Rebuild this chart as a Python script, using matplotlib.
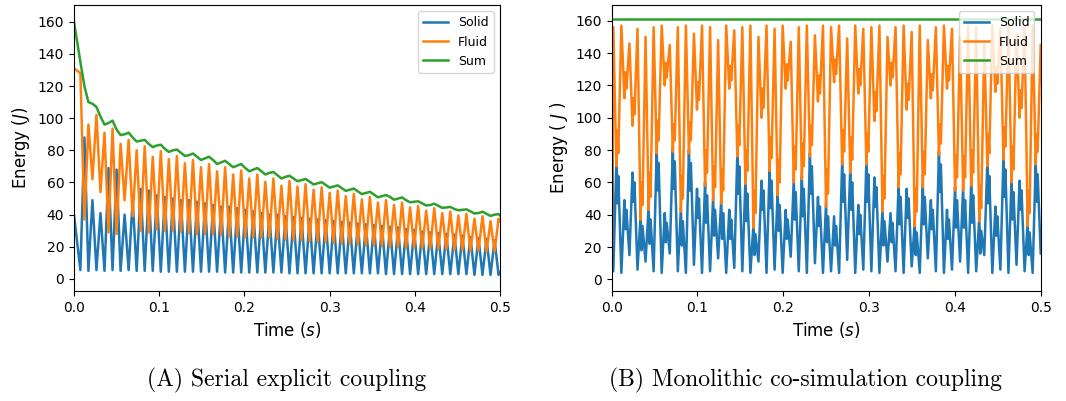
import numpy as np
import matplotlib.pyplot as plt

# ---- (A) serial explicit coupling: extrema of each oscillation
# solid lows / fluid highs sit on the same instants, solid highs / fluid lows on the next
solid_a_low = [5.5, 5, 5.5, 5, 5.5, 5, 5.5, 5, 5, 5, 4.5, 4.5, 4.5, 4.5, 4.5, 4.5, 4.5, 4.5,
               4, 4, 4, 4, 4, 4, 4, 4, 3.5, 3.5, 3.5, 3.5, 3.5, 3.5, 3.5, 3.5, 3.5, 3.5, 3.5, 3.5,
               3, 3, 3, 3, 3, 3, 3, 3, 3, 3, 3, 2.5, 2.5, 2.5, 2.5]
solid_a_high = [88, 49, 41, 69, 68, 40, 49, 56, 55, 52, 51, 50, 49, 49, 48, 47, 46, 45, 45, 44,
                43, 42, 41, 40, 40, 39, 38.5, 38, 37.5, 37, 36.5, 36, 35.5, 35, 34.5, 34, 33.5, 33,
                32.5, 32, 31, 30.5, 29.5, 29, 28.5, 28, 27.5, 27, 26, 25.5, 25, 24]
fluid_a_high = [128, 96, 102, 91, 93.5, 84, 86.5, 80, 82.5, 76, 79.5, 74.5, 76.5, 72, 74, 69.5,
                71.5, 67, 69.5, 65, 67.5, 62.5, 65, 60.5, 62.5, 58, 61, 57.5, 59, 55.5, 57, 53.5,
                55, 51.5, 53, 49.5, 51, 47.5, 49, 46, 47.5, 44.5, 45.5, 42.5, 44, 41, 42, 39.5,
                40.5, 37.5, 39, 36, 37.5]
fluid_a_low = [37, 62, 54, 29, 28, 49, 39, 30, 29, 31, 30, 30, 29.5, 28.5, 28, 28, 28, 27.5,
               26.5, 26.5, 26, 26, 26, 26, 25, 24.5, 24, 24, 23.5, 23, 23, 22.5, 22, 22, 21.5, 21,
               21, 20.5, 20, 20, 19.5, 19.5, 19, 19, 18.5, 18.5, 18, 18, 17.5, 17.5, 17, 17]
sum_a_low = [135, 110, 107, 96, 98.5, 89.5, 91, 85.5, 86.5, 82, 83.5, 79, 80.5, 76.5, 78, 74,
             76, 71.5, 73.5, 69.5, 71.5, 67, 69, 65, 66.5, 62.5, 64.2, 60.8, 62.2, 58.8, 60.2,
             56.8, 58.2, 54.8, 56.2, 52.8, 54.2, 50.8, 52.2, 49.3, 50.7, 47.7, 48.3, 45.7, 46.8,
             44.2, 44.8, 42.7, 43.3, 40.7, 41.8, 39.2, 40.3]
sum_a_high = [120, 109, 101, 97, 93, 90, 88, 86, 84, 83, 81, 80, 78.5, 77, 76, 75, 74, 72.5,
              71.5, 70.5, 69, 68, 67, 66, 64.5, 63.5, 62.5, 61.5, 60.5, 59.5, 58.5, 57.5, 56.5,
              55.5, 54.5, 53.5, 52.5, 51.5, 51, 50, 49, 48, 47, 46, 45.5, 44.5, 43.5, 43, 42, 41,
              40.5, 40]
# values at t = 0 and t = 0.5
solid_a_ends = [40, 4]
fluid_a_ends = [131, 36]
sum_a_ends = [160, 39.5]

# ---- (B) monolithic co-simulation coupling, one row entry per exchange cycle
solid_b_low = [5, 4, 15, 6, 11, 5, 4, 16, 5, 4, 9, 4, 5, 13, 4, 7, 5, 4, 11, 4, 6, 4, 14, 5, 4,
               10, 4, 5, 4, 12, 4, 6, 5, 4, 11, 5, 4, 8, 4, 13, 5, 4, 6, 11, 4, 5, 15, 4, 6, 4, 9,
               5, 4, 16]
solid_b_high1 = [72, 49, 66, 39, 45, 80, 41, 81, 44, 80, 56, 60, 51, 49, 43, 78, 61, 34, 61, 69,
                 54, 43, 62, 64, 78, 51, 47, 39, 73, 68, 46, 73, 63, 44, 41, 59, 56, 35, 59, 49,
                 79, 43, 57, 57, 60, 38, 72, 45, 76, 62, 61, 35, 73]
solid_b_dip = [47, 31, 48, 18, 22, 55, 23, 56, 21, 55, 38, 35, 27, 25, 25, 53, 36, 15, 43, 44,
               30, 25, 37, 39, 53, 33, 23, 21, 48, 43, 28, 48, 45, 21, 23, 34, 38, 15, 34, 31,
               54, 25, 32, 32, 35, 16, 47, 27, 51, 37, 43, 15, 48]
solid_b_high2 = [64, 43, 60, 33, 37, 72, 35, 73, 36, 72, 50, 52, 43, 41, 37, 70, 53, 28, 55, 61,
                 46, 37, 54, 56, 70, 45, 39, 33, 65, 60, 40, 65, 57, 36, 35, 51, 50, 29, 51, 43,
                 71, 37, 49, 49, 52, 30, 64, 39, 68, 54, 55, 29, 65]
fluid_b_high = [156, 157, 146, 155, 150, 156, 157, 145, 156, 157, 152, 157, 156, 148, 157, 154,
                156, 157, 150, 157, 155, 157, 147, 156, 157, 151, 157, 156, 157, 149, 157, 155,
                156, 157, 150, 156, 157, 153, 157, 148, 156, 157, 155, 150, 157, 156, 146, 157,
                155, 157, 152, 156, 157, 145]
fluid_b_low1 = [70, 112, 95, 37, 43, 78, 120, 79, 42, 78, 105, 58, 49, 47, 118, 76, 59, 32, 100,
                67, 52, 118, 60, 62, 76, 110, 45, 122, 71, 66, 115, 71, 98, 42, 120, 57, 105, 33,
                57, 112, 77, 118, 55, 55, 58, 36, 70, 116, 74, 60, 100, 33, 71]
fluid_b_bump = [92, 128, 112, 60, 66, 98, 134, 96, 64, 97, 122, 80, 70, 68, 132, 95, 80, 55, 118,
                88, 74, 133, 82, 84, 95, 126, 68, 136, 92, 88, 130, 90, 116, 64, 134, 78, 121, 56,
                79, 127, 96, 132, 77, 76, 80, 58, 90, 131, 94, 82, 117, 55, 90]
fluid_b_low2 = [78, 118, 102, 46, 51, 86, 125, 86, 50, 86, 111, 66, 57, 55, 123, 83, 67, 41, 106,
                75, 60, 123, 68, 70, 83, 115, 53, 127, 79, 74, 120, 79, 104, 50, 125, 65, 111, 42,
                65, 117, 84, 123, 63, 63, 66, 44, 78, 121, 82, 68, 106, 41, 79]
solid_b_start = 161
fluid_b_start = 0
sum_b = [161, 161]
t_sum_b = [0.0, 0.5]

half_a = 0.00472        # half period of the energy exchange, panel A
period_b = 0.0094       # exchange period, panel B
phase_b = [0, 0.38, 0.5, 0.62]   # where the points of one cycle sit inside it


def weave(*cols):
    return np.column_stack(cols).ravel()


t_a = np.r_[0.0, 0.0075 + half_a * np.arange(len(solid_a_low) + len(solid_a_high)), 0.5]
solid_a = np.r_[solid_a_ends[0], weave(solid_a_low[:-1], solid_a_high), solid_a_low[-1],
                solid_a_ends[1]]
fluid_a = np.r_[fluid_a_ends[0], weave(fluid_a_high[:-1], fluid_a_low), fluid_a_high[-1],
                fluid_a_ends[1]]
sum_a = np.r_[sum_a_ends[0], weave(sum_a_low[:-1], sum_a_high), sum_a_low[-1], sum_a_ends[1]]

n_b = len(solid_b_high1)
starts_b = 0.0019 + period_b * np.arange(n_b + 1)
t_b = np.r_[0.0, (starts_b[:-1, None] + period_b * np.array(phase_b)).ravel(), starts_b[-1]]
solid_b = np.r_[solid_b_start, weave(solid_b_low[:-1], solid_b_high1, solid_b_dip, solid_b_high2),
                solid_b_low[-1]]
fluid_b = np.r_[fluid_b_start, weave(fluid_b_high[:-1], fluid_b_low1, fluid_b_bump, fluid_b_low2),
                fluid_b_high[-1]]

fig = plt.figure(figsize=(10.66, 4.01), dpi=100)
ax = fig.add_axes([0.0694, 0.2743, 0.3996, 0.7132])
ax1 = fig.add_axes([0.5738, 0.2743, 0.4024, 0.7132])

lw = 1.8
ax.plot(t_a, solid_a, lw=lw, label='Solid')
ax.plot(t_a, fluid_a, lw=lw, label='Fluid')
ax.plot(t_a, sum_a, lw=lw, label='Sum')
ax.set_ylim(-7.5, 170.4)
ax.set_ylabel('Energy ($J$)', fontsize=12)

ax1.plot(t_b, solid_b, lw=lw, label='Solid')
ax1.plot(t_b, fluid_b, lw=lw, label='Fluid')
ax1.plot(t_sum_b, sum_b, lw=lw, label='Sum')
ax1.set_ylim(-7.2, 169.7)
ax1.set_ylabel('Energy ( $J$ )', fontsize=12)

for a in (ax, ax1):
    a.set_xlim(0, 0.5)
    a.set_yticks(range(0, 161, 20))
    a.set_xticks([0, 0.1, 0.2, 0.3, 0.4, 0.5])
    a.tick_params(labelsize=10)
    a.set_xlabel('Time ($s$)', fontsize=12)
    a.legend(loc='upper right', fontsize=9)

fig.text(0.269, 0.05, '(A) Serial explicit coupling', ha='center', va='center',
         family='cmr10', fontsize=17)
fig.text(0.756, 0.05, '(B) Monolithic co-simulation coupling', ha='center', va='center',
         family='cmr10', fontsize=17)

fig.savefig('out.png', dpi=100)
